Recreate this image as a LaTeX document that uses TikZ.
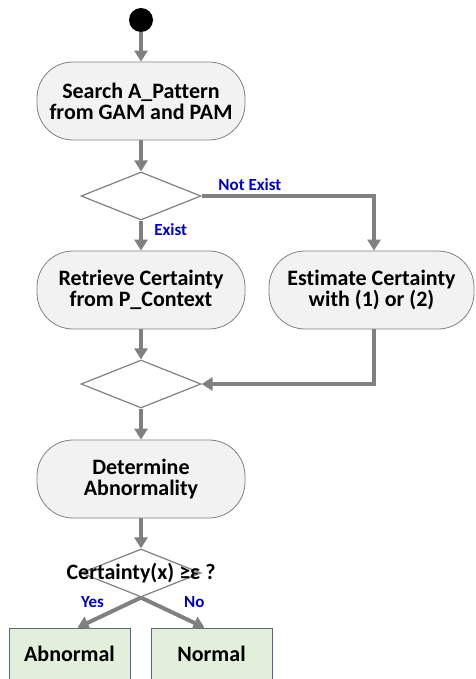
\documentclass[tikz,border=0pt]{standalone}
\usepackage{fontspec}
\setmainfont[Ligatures=NoCommon]{Carlito}
\usetikzlibrary{shapes.geometric,arrows.meta}
\definecolor{boxgray}{HTML}{F2F2F2}
\definecolor{linegray}{HTML}{808080}
\definecolor{endgreen}{HTML}{E2EFDA}
\definecolor{endborder}{HTML}{56687E}
\definecolor{labelblue}{HTML}{0000C0}
\tikzstyle{activity}=[draw=linegray, fill=boxgray, rounded corners=36pt, minimum width=208pt, minimum height=78pt, align=center, font=\bfseries\fontsize{22}{21}\selectfont, line width=0.8pt]
\tikzstyle{decision}=[draw=linegray, diamond, minimum width=120pt, minimum height=48pt, inner sep=0pt, line width=1.2pt]
\tikzstyle{result}=[draw=endborder, fill=endgreen, minimum width=121pt, minimum height=52pt, font=\bfseries\fontsize{22}{21}\selectfont, line width=0.8pt]
\tikzstyle{flow}=[draw=linegray, line width=4pt, -{Triangle[width=13pt,length=11pt]}]
\tikzstyle{branch}=[text=labelblue, font=\bfseries\fontsize{17}{18}\selectfont]

\begin{document}
\begin{tikzpicture}[x=1pt,y=-1pt]
    \useasboundingbox (0,0) rectangle (475,679);

    % Nodes
    \draw (141,20) node[circle, fill=black, minimum size=24pt, inner sep=0pt] (start) {};
    \draw (141,101) node[activity] (search) {Search A\_Pattern\\from GAM and PAM};
    \draw (141,196) node[decision] (exist) {};
    \draw (141,290) node[activity] (retrieve) {Retrieve Certainty\\from P\_Context};
    \draw (371.5,290) node[activity, minimum width=205pt] (estimate) {Estimate Certainty\\with (1) or (2)};
    \draw (141,384) node[decision] (merge) {};
    \draw (141,479) node[activity] (determine) {Determine\\Abnormality};
    \draw (141,573) node[decision] (check) {};
    \draw (check.center) node[font=\bfseries\fontsize{22}{21}\selectfont] (cond) {Certainty(x) ≥ε ?};
    \draw (69.5,654) node[result] (abnormal) {Abnormal};
    \draw (211.5,654) node[result] (normal) {Normal};

    % Connectors
    \draw[flow] (start) -- (search);
    \draw[flow] (search) -- (exist);
    \draw[flow] (exist) -- node[branch, right, pos=.3, xshift=8pt] (lexist) {Exist} (retrieve);
    \draw[flow] (exist.east) -| node[branch, above, pos=.14] (lnot) {Not Exist} (estimate.north -| 374,0);
    \draw[flow] (retrieve) -- (merge);
    \draw[flow] (estimate.south -| 374,0) |- (merge.east);
    \draw[flow] (merge) -- (determine);
    \draw[flow] (determine) -- (check);
    \draw[flow] (check.south) -- node[branch, above left, pos=.5] (lyes) {Yes} ([xshift=8pt]abnormal.north);
    \draw[flow] (check.south) -- node[branch, above right, pos=.5, xshift=6pt] (lno) {No} ([xshift=-7pt]normal.north);

\end{tikzpicture}
\end{document}
